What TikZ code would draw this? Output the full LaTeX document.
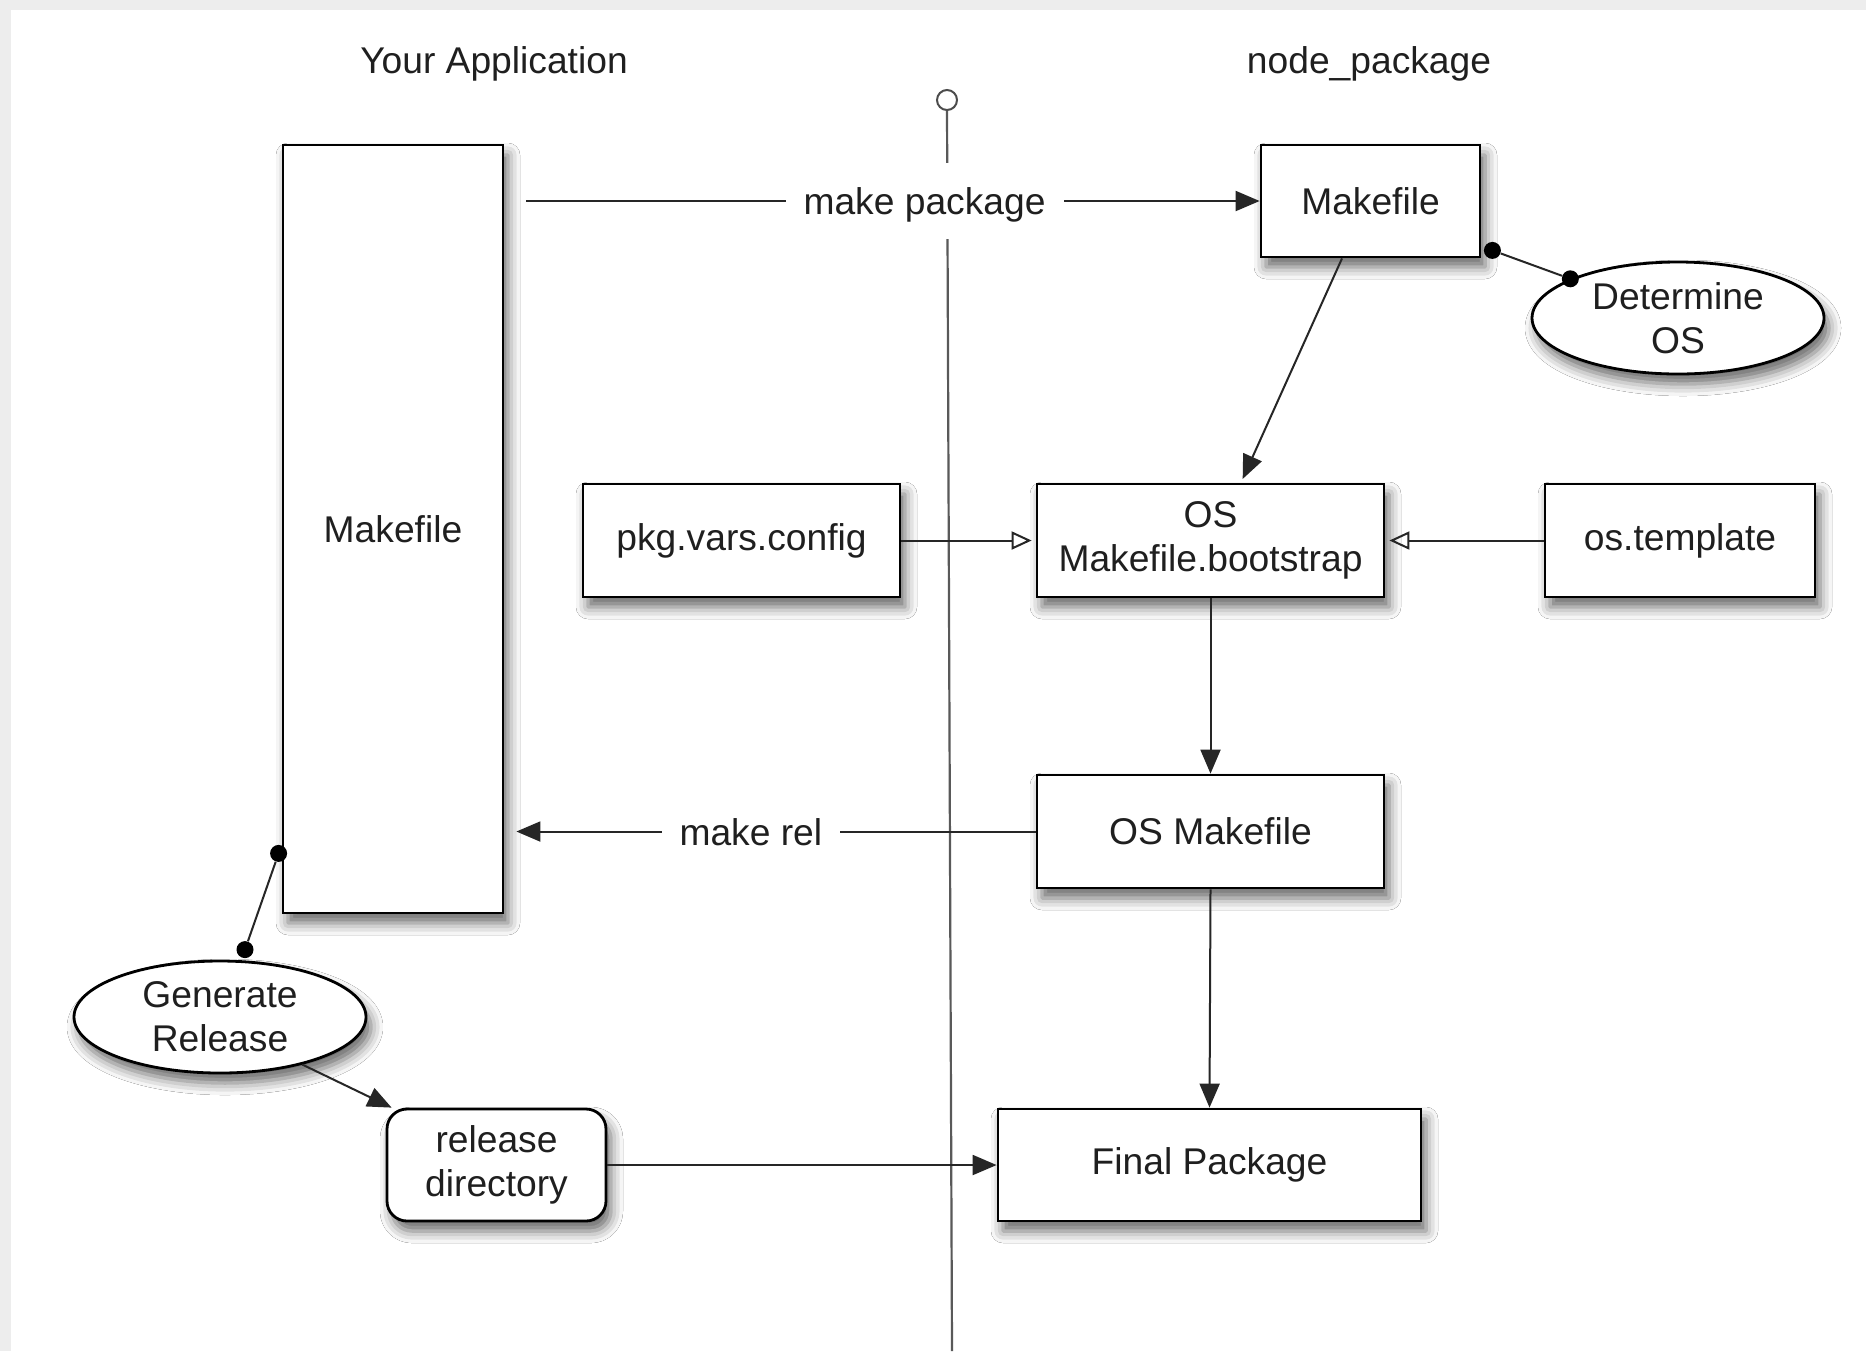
\documentclass[tikz,border=0pt]{standalone}
\usepackage{fontspec}
\setmainfont{Liberation Sans}
\usetikzlibrary{shapes.geometric,arrows.meta,shadows.blur}
\begin{document}
\begin{tikzpicture}[x=0.5pt,y=-0.5pt,
  every node/.style={font=\fontsize{18.6}{22}\selectfont, text=black!88},
  shad/.style={blur shadow={shadow xshift=2.5pt,shadow yshift=-5pt,shadow blur radius=6pt,shadow opacity=60}},
  box/.style={draw, line width=1.4pt, fill=white, shad, align=center, inner sep=0pt},
  oval/.style={box, ellipse},
  conn/.style={line width=1pt, draw=black!85},
  arr/.style={conn,-{Triangle[length=12pt,width=10pt]}},
  oarr/.style={conn,-{Triangle[open,length=10pt,width=9pt]}},
  dot/.style={fill=black, circle, inner sep=0pt, minimum size=8.5pt},
  lab/.style={fill=white, inner xsep=9pt, inner ysep=0pt, text depth=0pt, minimum height=38pt},
  lifeline/.style={line width=1.1pt, draw=black!65}
]
\useasboundingbox (0,0) rectangle (1866,1351);
\fill[gray!14] (0,0) rectangle (1866,1351);
\fill[white] (11,10) rectangle (1866,1351);

% titles
\node (tApp) at (494,64) {Your Application};
\node (tNode) at (1369,64) {node\_package};

% lifeline
\node[circle, draw=black!70, line width=1pt, minimum size=10pt, inner sep=0pt] (life) at (947,100) {};
\coordinate (lifeEnd) at (952,1351);
\draw[lifeline] (life.south) -- (lifeEnd);

% boxes
\node[box, minimum width=110pt, minimum height=384pt] (mkL) at (393,529) {Makefile};
\node[box, minimum width=109.5pt, minimum height=56pt] (mkR) at (1370.5,201) {Makefile};
\node[oval, minimum width=146pt, minimum height=56pt] (detOS) at (1678,318) {Determine\\OS};
\node[box, minimum width=158.5pt, minimum height=56.5pt] (pkg) at (741.5,540.5) {pkg.vars.config};
\node[box, minimum width=173.5pt, minimum height=56.5pt] (boot) at (1210.5,540.5) {OS\\Makefile.bootstrap};
\node[box, minimum width=135pt, minimum height=56.5pt] (ostpl) at (1680,540.5) {os.template};
\node[box, minimum width=173.5pt, minimum height=56.5pt] (osmk) at (1210.5,831.5) {OS Makefile};
\node[box, minimum width=211.5pt, minimum height=56pt] (final) at (1209.5,1165) {Final Package};
\node[box, rounded corners=10pt, minimum width=109.5pt, minimum height=56pt] (reldir) at (496.5,1165) {release\\directory};
\node[oval, minimum width=146pt, minimum height=56pt] (genrel) at (220,1017) {Generate\\Release};

% connectors
\draw[arr] ([xshift=11pt]mkL.east |- mkR.west) -- (mkR.west)
  node[lab, pos=0.543] (lblPkg) {make package};
\draw[arr, shorten >=2pt] ([xshift=-14.25pt]mkR.south) -- ([xshift=15.25pt]boot.north);
\node[dot] (d1) at ([shift={(5.5pt,4pt)}]mkR.south east) {};
\node[dot] (d2) at (detOS.160) {};
\draw[conn] (d1) -- (d2);
\draw[oarr, shorten >=2pt] (pkg.east) -- (boot.west);
\draw[oarr, shorten >=2pt] (ostpl.west) -- (boot.east);
\draw[arr] (boot.south) -- (osmk.north);
\draw[arr, shorten >=6pt] (osmk.west) -- (mkL.east |- osmk.west)
  node[lab, pos=0.536] (lblRel) {make rel};
\draw[arr] (osmk.south) -- (final.north);
\node[dot] (d3) at ([shift={(-1.5pt,30.5pt)}]mkL.south west) {};
\node[dot] (d4) at ([shift={(12.5pt,5pt)}]genrel.north) {};
\draw[conn] (d3) -- (d4);
\draw[arr] (genrel.-30) -- ([xshift=3pt]reldir.north west);
\draw[arr] (reldir.east) -- (final.west);
\end{tikzpicture}
\end{document}
